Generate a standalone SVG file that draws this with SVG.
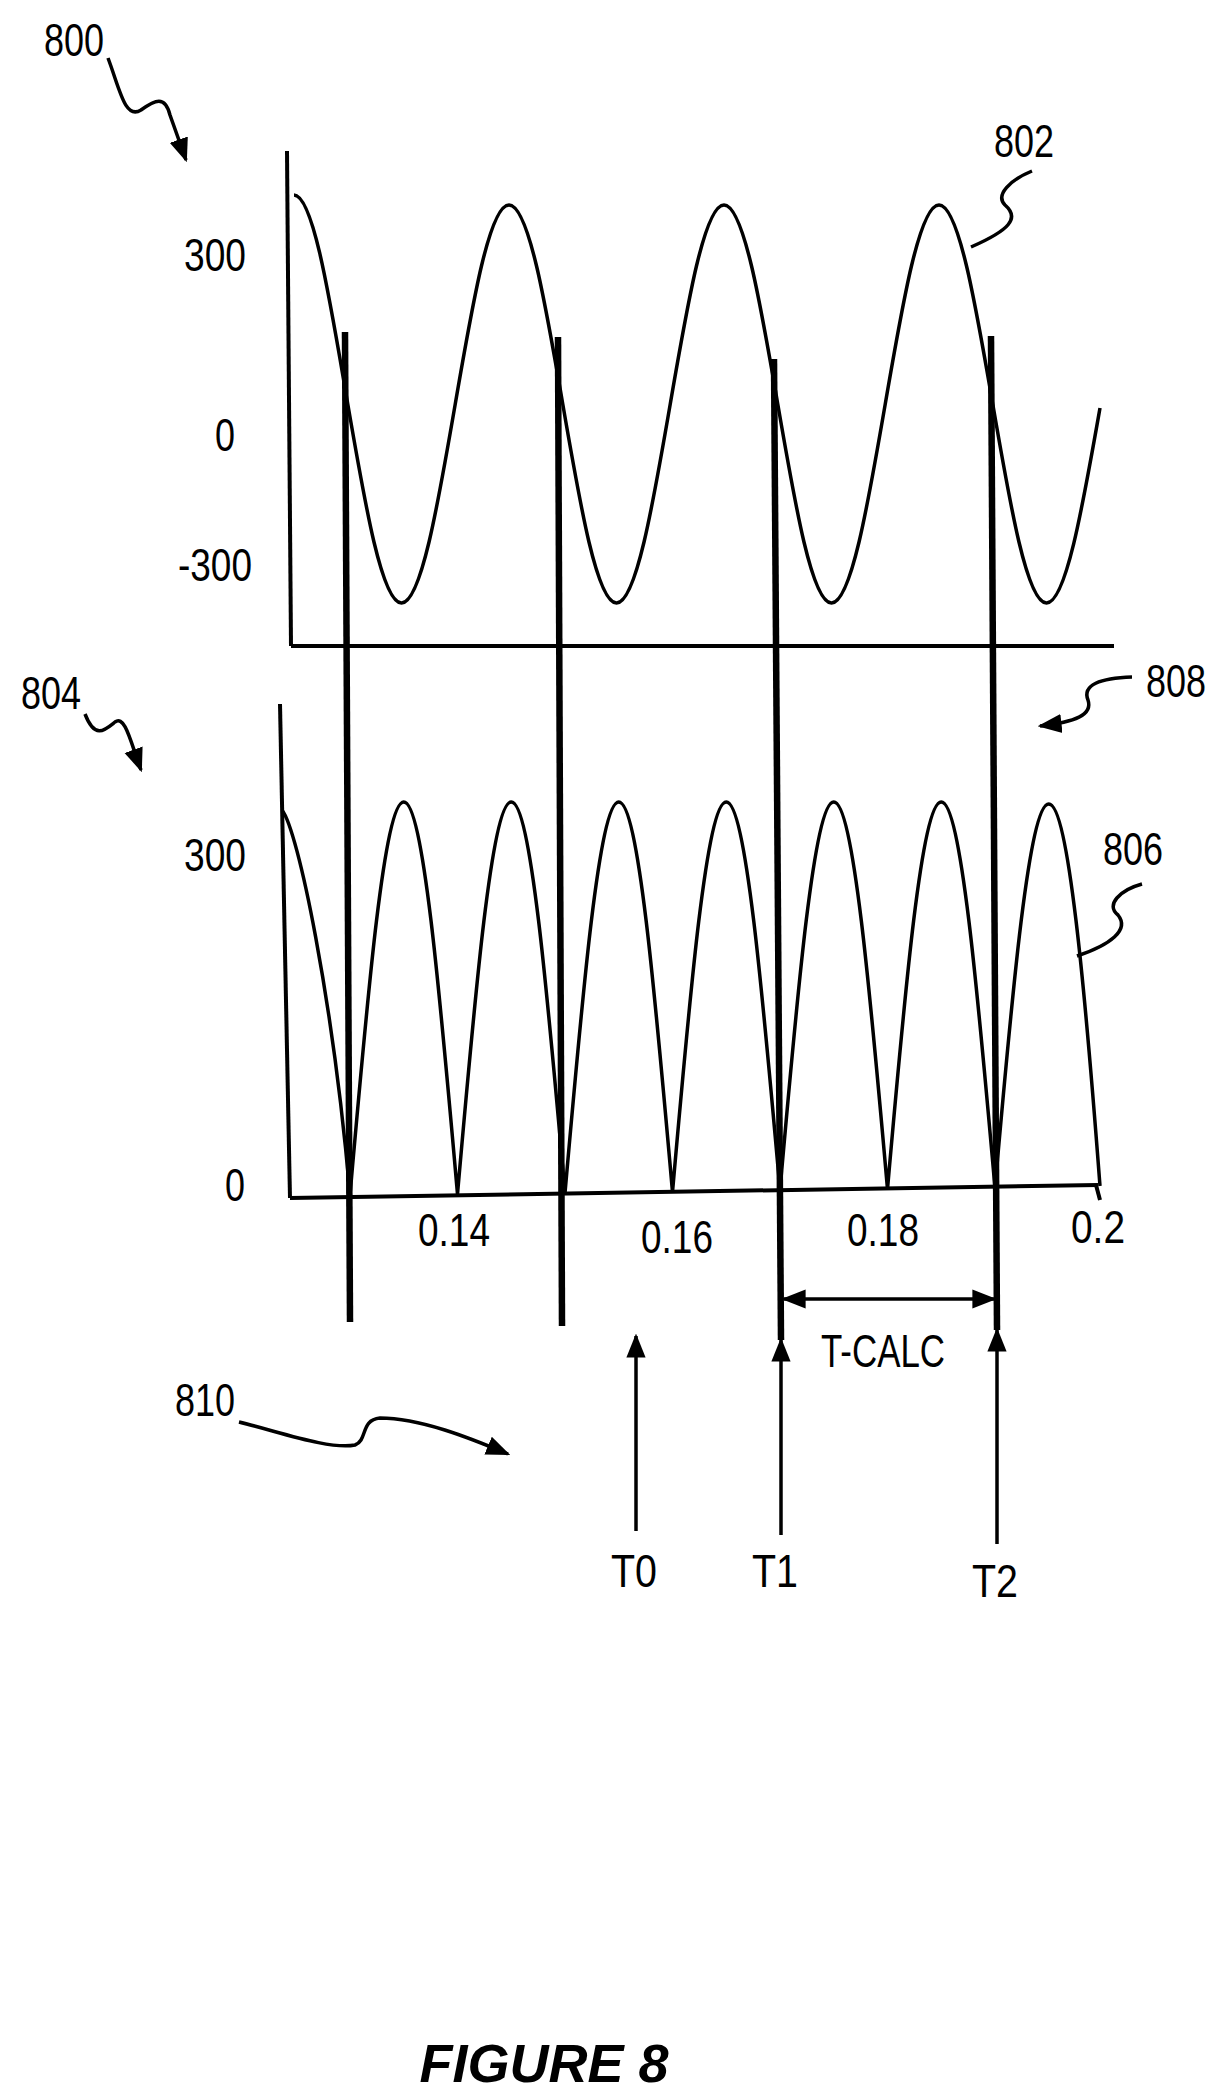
<svg xmlns="http://www.w3.org/2000/svg" width="1222" height="2094" viewBox="0 0 1222 2094">
<style>
.t{font-family:"Liberation Sans",Arial,sans-serif;font-size:46px;fill:#000;text-anchor:middle}
.ln{fill:none;stroke:#000;stroke-width:3.5}
.thk{fill:none;stroke:#000;stroke-width:6.5}
.ax{fill:none;stroke:#000;stroke-width:4}
</style>
<defs>
<marker id="ah2" viewBox="0 0 10 10" refX="9" refY="5" markerWidth="24" markerHeight="24" orient="auto-start-reverse" markerUnits="userSpaceOnUse"><path d="M0,1L10,5L0,9z" fill="#000"/></marker>
</defs>
<g id="labels">
<text class="t" x="74" y="56" textLength="60" lengthAdjust="spacingAndGlyphs">800</text>
<text class="t" x="1024" y="157" textLength="60" lengthAdjust="spacingAndGlyphs">802</text>
<text class="t" x="51" y="709" textLength="60" lengthAdjust="spacingAndGlyphs">804</text>
<text class="t" x="1176" y="697" textLength="60" lengthAdjust="spacingAndGlyphs">808</text>
<text class="t" x="1133" y="865" textLength="60" lengthAdjust="spacingAndGlyphs">806</text>
<text class="t" x="205" y="1416" textLength="60" lengthAdjust="spacingAndGlyphs">810</text>
</g>
<g id="plot1">
<line class="ax" x1="287" y1="151" x2="291" y2="646"/>
<line class="ax" x1="291" y1="646" x2="1114" y2="646"/>
<text class="t" x="215" y="271" textLength="62" lengthAdjust="spacingAndGlyphs">300</text>
<text class="t" x="225" y="451" textLength="20" lengthAdjust="spacingAndGlyphs">0</text>
<text class="t" x="215" y="581" textLength="74" lengthAdjust="spacingAndGlyphs">-300</text>
<path class="ln" d="M294,195 C313.45,195 330.22,302.05 347.75,404 S382.05,603 401.5,603 S437.72,505.95 455.25,404 S489.55,205 509,205 S545.22,302.05 562.75,404 S597.05,603 616.5,603 S652.72,505.95 670.25,404 S704.55,205 724,205 S760.22,302.05 777.75,404 S812.05,603 831.5,603 S867.72,505.95 885.25,404 S919.55,205 939,205 S975.22,302.05 992.75,404 S1027.05,603 1046.5,603 S1082.72,505.95 1100,408"/>
</g>
<g id="plot2">
<line class="ax" x1="280" y1="704" x2="290" y2="1198"/>
<line class="ax" x1="290" y1="1198" x2="1098" y2="1185"/>
<line class="ax" x1="1096" y1="1185" x2="1100" y2="1200"/>
<text class="t" x="215" y="871" textLength="62" lengthAdjust="spacingAndGlyphs">300</text>
<text class="t" x="235" y="1201" textLength="20" lengthAdjust="spacingAndGlyphs">0</text>
<text class="t" x="454" y="1246" textLength="72" lengthAdjust="spacingAndGlyphs">0.14</text>
<text class="t" x="677" y="1253" textLength="72" lengthAdjust="spacingAndGlyphs">0.16</text>
<text class="t" x="883" y="1246" textLength="72" lengthAdjust="spacingAndGlyphs">0.18</text>
<text class="t" x="1098" y="1243" textLength="54" lengthAdjust="spacingAndGlyphs">0.2</text>
<path class="ln" d="M282,810 C298,830 333,1000 350,1195 C367.53,995.2 384.3,802 403.75,802 S439.97,995.2 457.5,1194 C475.03,994.2 491.8,802 511.25,802 S547.47,994.2 565,1193 C582.53,993.2 599.3,802 618.75,802 S654.97,993.2 672.5,1192 C690.03,992.2 706.8,802 726.25,802 S762.47,992.2 780,1190 C797.53,990.2 814.3,802 833.75,802 S869.97,990.2 887.5,1189 C905.03,989.2 921.8,802 941.25,802 S977.47,989.2 995,1188 C1012.53,988.2 1029.3,804 1048.75,804 S1084.97,988.2 1100,1186"/>
</g>
<g id="markers">
<line class="thk" x1="345" y1="332" x2="350" y2="1322"/>
<line class="thk" x1="558" y1="337" x2="562" y2="1326"/>
<line class="thk" x1="774" y1="359" x2="781" y2="1340"/>
<line class="thk" x1="991" y1="336" x2="997" y2="1330"/>
</g>
<g id="connectors">
<path class="ln" d="M108,58 C120,90 125,120 141,110 C155,100 165,95 170,115 L186,160" marker-end="url(#ah2)"/>
<path class="ln" d="M1032,171 C1010,180 995,195 1005,205 C1020,218 1010,230 971,247"/>
<path class="ln" d="M85,714 C95,740 105,730 115,722 C125,715 130,740 141,770" marker-end="url(#ah2)"/>
<path class="ln" d="M1132,677 C1100,678 1082,685 1088,700 C1093,715 1075,722 1040,726" marker-end="url(#ah2)"/>
<path class="ln" d="M1142,884 C1120,890 1105,905 1118,915 C1130,930 1110,945 1077,956"/>
<path class="ln" d="M239,1422 C280,1432 330,1450 355,1445 C368,1440 360,1420 380,1418 C420,1418 470,1438 508,1454" marker-end="url(#ah2)"/>
<line class="ln" x1="636" y1="1531" x2="636" y2="1336" marker-end="url(#ah2)"/>
<line class="ln" x1="781" y1="1535" x2="781" y2="1340" marker-end="url(#ah2)"/>
<line class="ln" x1="997" y1="1544" x2="997" y2="1330" marker-end="url(#ah2)"/>
<line class="ln" x1="784" y1="1299" x2="994" y2="1299" marker-start="url(#ah2)" marker-end="url(#ah2)"/>
</g>
<g id="bottomlabels">
<text class="t" x="883" y="1367" textLength="124" lengthAdjust="spacingAndGlyphs">T-CALC</text>
<text class="t" x="634" y="1587" textLength="46" lengthAdjust="spacingAndGlyphs">T0</text>
<text class="t" x="775" y="1587" textLength="46" lengthAdjust="spacingAndGlyphs">T1</text>
<text class="t" x="995" y="1597" textLength="46" lengthAdjust="spacingAndGlyphs">T2</text>
<text x="544" y="2082" style="font-family:'Liberation Sans',Arial,sans-serif;font-size:54px;font-weight:bold;font-style:italic;text-anchor:middle">FIGURE 8</text>
</g>
</svg>
